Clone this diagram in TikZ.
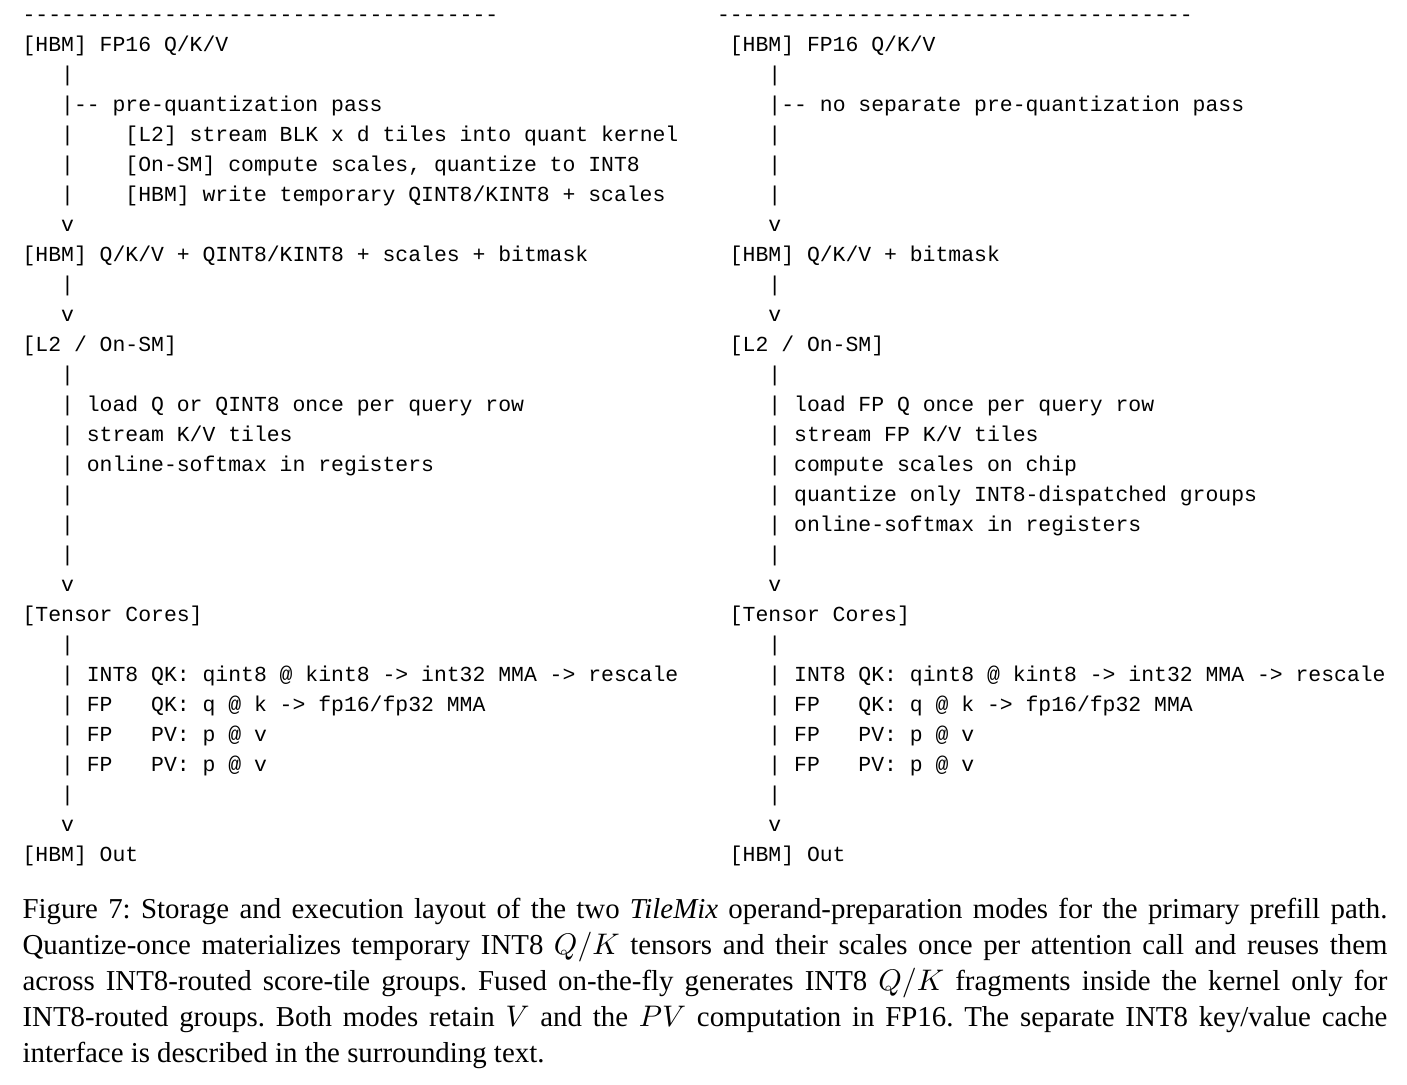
\documentclass[tikz,border=0pt]{standalone}
\usepackage{fontspec}
\setmainfont{Liberation Serif}
\setmonofont{Liberation Mono}
\usepackage{tikz}
\usetikzlibrary{positioning}

\begin{document}
\begin{tikzpicture}[x=4.321pt,y=-10.08pt,
    mono/.style={anchor=base west,inner sep=0pt,font=\ttfamily\fontsize{7.2}{10}\selectfont},
    capt/.style={anchor=base west,inner sep=0pt,text width=458.6pt,align=justify,
        font=\rmfamily\fontsize{9.7}{12.1}\selectfont\frenchspacing}]
                \useasboundingbox (-1.711,-0.733) rectangle (107.70,35.43);
                % quantize-once
                \node[mono] (q0) at (0,0) {-------------------------------------};
                \node[mono] (q1) at (0,1) {[HBM] FP16 Q/K/V};
                \node[mono] (q2) at (3,2) {|};
                \node[mono] (q3) at (3,3) {|-- pre-quantization pass};
                \node[mono] (q4) at (3,4) {|~~~~[L2] stream BLK x d tiles into quant kernel};
                \node[mono] (q5) at (3,5) {|~~~~[On-SM] compute scales, quantize to INT8};
                \node[mono] (q6) at (3,6) {|~~~~[HBM] write temporary QINT8/KINT8 + scales};
                \node[mono] (q7) at (3,7) {v};
                \node[mono] (q8) at (0,8) {[HBM] Q/K/V + QINT8/KINT8 + scales + bitmask};
                \node[mono] (q9) at (3,9) {|};
                \node[mono] (q10) at (3,10) {v};
                \node[mono] (q11) at (0,11) {[L2 / On-SM]};
                \node[mono] (q12) at (3,12) {|};
                \node[mono] (q13) at (3,13) {| load Q or QINT8 once per query row};
                \node[mono] (q14) at (3,14) {| stream K/V tiles};
                \node[mono] (q15) at (3,15) {| online-softmax in registers};
                \node[mono] (q16) at (3,16) {|};
                \node[mono] (q17) at (3,17) {|};
                \node[mono] (q18) at (3,18) {|};
                \node[mono] (q19) at (3,19) {v};
                \node[mono] (q20) at (0,20) {[Tensor Cores]};
                \node[mono] (q21) at (3,21) {|};
                \node[mono] (q22) at (3,22) {| INT8 QK: qint8 @ kint8 -> int32 MMA -> rescale};
                \node[mono] (q23) at (3,23) {| FP~~~QK: q @ k -> fp16/fp32 MMA};
                \node[mono] (q24) at (3,24) {| FP~~~PV: p @ v};
                \node[mono] (q25) at (3,25) {| FP~~~PV: p @ v};
                \node[mono] (q26) at (3,26) {|};
                \node[mono] (q27) at (3,27) {v};
                \node[mono] (q28) at (0,28) {[HBM] Out};
                % fused on-the-fly
                \node[mono] (f0) at (54,0) {-------------------------------------};
                \node[mono] (f1) at (55,1) {[HBM] FP16 Q/K/V};
                \node[mono] (f2) at (58,2) {|};
                \node[mono] (f3) at (58,3) {|-- no separate pre-quantization pass};
                \node[mono] (f4) at (58,4) {|};
                \node[mono] (f5) at (58,5) {|};
                \node[mono] (f6) at (58,6) {|};
                \node[mono] (f7) at (58,7) {v};
                \node[mono] (f8) at (55,8) {[HBM] Q/K/V + bitmask};
                \node[mono] (f9) at (58,9) {|};
                \node[mono] (f10) at (58,10) {v};
                \node[mono] (f11) at (55,11) {[L2 / On-SM]};
                \node[mono] (f12) at (58,12) {|};
                \node[mono] (f13) at (58,13) {| load FP Q once per query row};
                \node[mono] (f14) at (58,14) {| stream FP K/V tiles};
                \node[mono] (f15) at (58,15) {| compute scales on chip};
                \node[mono] (f16) at (58,16) {| quantize only INT8-dispatched groups};
                \node[mono] (f17) at (58,17) {| online-softmax in registers};
                \node[mono] (f18) at (58,18) {|};
                \node[mono] (f19) at (58,19) {v};
                \node[mono] (f20) at (55,20) {[Tensor Cores]};
                \node[mono] (f21) at (58,21) {|};
                \node[mono] (f22) at (58,22) {| INT8 QK: qint8 @ kint8 -> int32 MMA -> rescale};
                \node[mono] (f23) at (58,23) {| FP~~~QK: q @ k -> fp16/fp32 MMA};
                \node[mono] (f24) at (58,24) {| FP~~~PV: p @ v};
                \node[mono] (f25) at (58,25) {| FP~~~PV: p @ v};
                \node[mono] (f26) at (58,26) {|};
                \node[mono] (f27) at (58,27) {v};
                \node[mono] (f28) at (55,28) {[HBM] Out};
                \node[capt] (cap) at (0,29.87) {Figure 7: Storage and execution layout of the two \textit{TileMix} operand-preparation modes for the primary prefill path.\linebreak
                    Quantize-once materializes temporary INT8 $Q/K$ tensors and their scales once per attention call and reuses them\linebreak
                    across INT8-routed score-tile groups. Fused on-the-fly generates INT8 $Q/K$ fragments inside the kernel only for\linebreak
                    INT8-routed groups. Both modes retain $V$ and the $PV$ computation in FP16. The separate INT8 key/value cache\linebreak
                    interface is described in the surrounding text.};
\end{tikzpicture}
\end{document}
